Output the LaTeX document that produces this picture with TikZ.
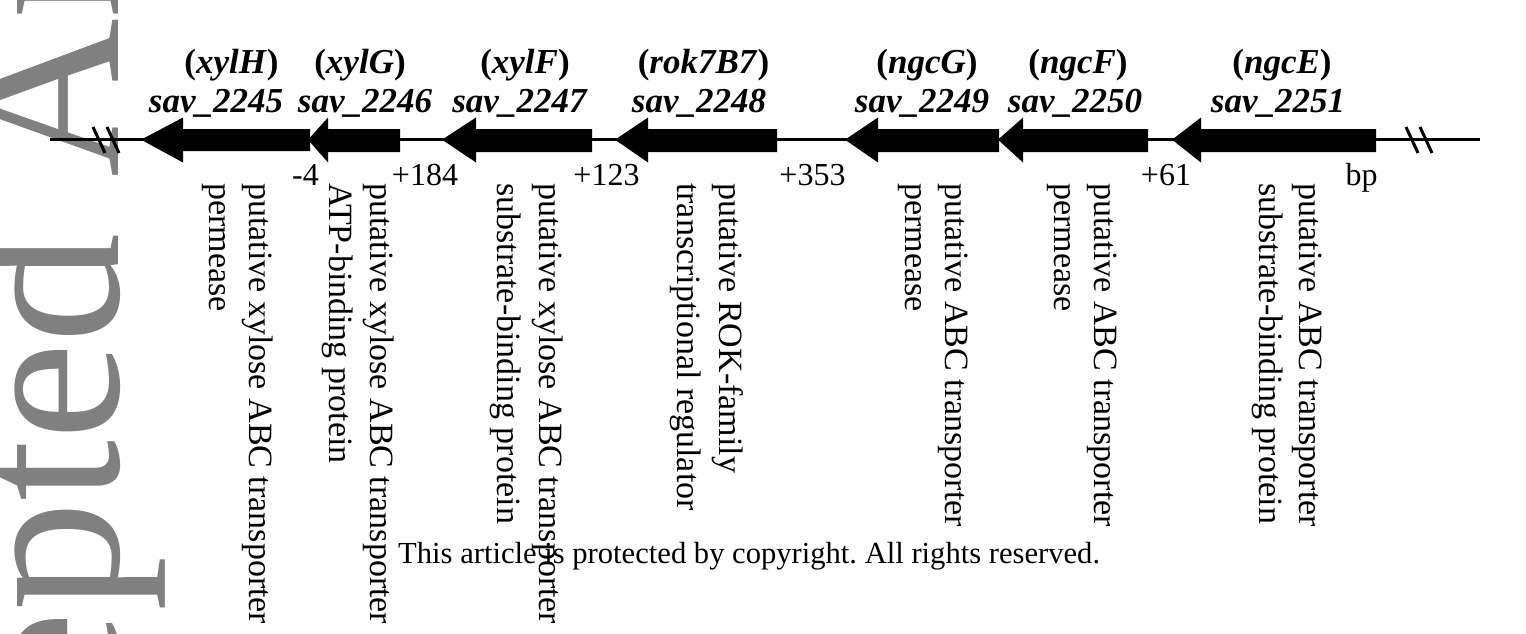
\documentclass[tikz,border=0pt]{standalone}
\usepackage{fontspec}
\setmainfont{Liberation Serif}
\definecolor{wmgray}{RGB}{128,128,128}
\frenchspacing
\begin{document}
\begin{tikzpicture}[x=1pt,y=-1pt,
  gene/.style={fill=black,draw=none},
  axisline/.style={line width=3.3pt},
  brk/.style={line width=3pt},
  glab/.style={font=\fontsize{35}{40}\selectfont\bfseries, inner sep=0pt, anchor=base},
  num/.style={font=\fontsize{32}{38}\selectfont, inner sep=0pt, anchor=base},
  vlab/.style={font=\fontsize{34}{40}\selectfont, inner sep=0pt, anchor=base west, rotate=-90},
  note/.style={font=\fontsize{30.6}{36}\selectfont, inner sep=0pt, anchor=base west},
  wm/.style={font=\fontsize{220}{250}\selectfont, text=wmgray, inner sep=0pt, rotate=90}]
\useasboundingbox (0,0) rectangle (1526,634);
\clip (0,0) rectangle (1526,634);
% watermark
\node[wm, anchor=base east] (wm1) at (118,233) {Accepted};
\node[wm, anchor=base west] (wm2) at (118,178) {Article};
% axis line
\coordinate (lstart) at (50,139.7);
\coordinate (lend) at (1480,139.7);
\draw[axisline] (lstart) -- (lend);
% break marks
\draw[brk] (93,127) -- (105,153);
\draw[brk] (107,127) -- (119,153);
\draw[brk] (1406,127) -- (1418,153);
\draw[brk] (1420,127) -- (1432,153);
% genes: tip, head back, body end
\fill[gene] (141,139.7) -- (183,117.5) -- (183,129) -- (310,129) -- (310,151) -- (183,151) -- (183,162.5) -- cycle;
\fill[gene] (308,139.7) -- (328,117.5) -- (328,129) -- (400,129) -- (400,152) -- (328,152) -- (328,162.5) -- cycle;
\fill[gene] (442,139.7) -- (476,117.5) -- (476,129) -- (592,129) -- (592,152) -- (476,152) -- (476,162.5) -- cycle;
\fill[gene] (615,139.7) -- (648,117.5) -- (648,129) -- (777,129) -- (777,152) -- (648,152) -- (648,162.5) -- cycle;
\fill[gene] (845,139.7) -- (878,117.5) -- (878,129) -- (999,129) -- (999,152) -- (878,152) -- (878,162.5) -- cycle;
\fill[gene] (998,139.7) -- (1023,117.5) -- (1023,129) -- (1148,129) -- (1148,152) -- (1023,152) -- (1023,162.5) -- cycle;
\fill[gene] (1172,139.7) -- (1201,117.5) -- (1201,129) -- (1376,129) -- (1376,152) -- (1201,152) -- (1201,162.5) -- cycle;
% gene symbols
\node[glab] (s1) at (231.5,74) {(\textit{xylH})};
\node[glab] (s2) at (360,74) {(\textit{xylG})};
\node[glab] (s3) at (525,74) {(\textit{xylF})};
\node[glab] (s4) at (703.5,74) {(\textit{rok7B7})};
\node[glab] (s5) at (927,74) {(\textit{ngcG})};
\node[glab] (s6) at (1078,74) {(\textit{ngcF})};
\node[glab] (s7) at (1282,74) {(\textit{ngcE})};
% gene ids
\node[glab] (i1) at (216,112) {\textit{sav\_2245}};
\node[glab] (i2) at (365,112) {\textit{sav\_2246}};
\node[glab] (i3) at (520,112) {\textit{sav\_2247}};
\node[glab] (i4) at (699,112) {\textit{sav\_2248}};
\node[glab] (i5) at (922,112) {\textit{sav\_2249}};
\node[glab] (i6) at (1075,112) {\textit{sav\_2250}};
\node[glab] (i7) at (1278,112) {\textit{sav\_2251}};
% intergenic distances
\node[num] (d1) at (305.5,185) {-4};
\node[num] (d2) at (425,185) {+184};
\node[num] (d3) at (606.5,185) {+123};
\node[num] (d4) at (812.5,185) {+353};
\node[num] (d5) at (1166,185) {+61};
\node[num] (d6) at (1361.5,185) {bp};
% functions
\node[vlab] (f1a) at (249,183) {putative xylose ABC transporter};
\node[vlab] (f1b) at (209,183) {permease};
\node[vlab] (f2a) at (370,183) {putative xylose ABC transporter};
\node[vlab] (f2b) at (329,183) {ATP-binding protein};
\node[vlab] (f3a) at (539,183) {putative xylose ABC transporter};
\node[vlab] (f3b) at (497,183) {substrate-binding protein};
\node[vlab] (f4a) at (719,183) {putative ROK-family};
\node[vlab] (f4b) at (677,183) {transcriptional regulator};
\node[vlab] (f5a) at (945,183) {putative ABC transporter};
\node[vlab] (f5b) at (905,183) {permease};
\node[vlab] (f6a) at (1094,183) {putative ABC transporter};
\node[vlab] (f6b) at (1054,183) {permease};
\node[vlab] (f7a) at (1299,183) {putative ABC transporter};
\node[vlab] (f7b) at (1259,183) {substrate-binding protein};
% copyright line
\node[note] (copy) at (398,563) {This article is protected by copyright. All rights reserved.};
\end{tikzpicture}
\end{document}
